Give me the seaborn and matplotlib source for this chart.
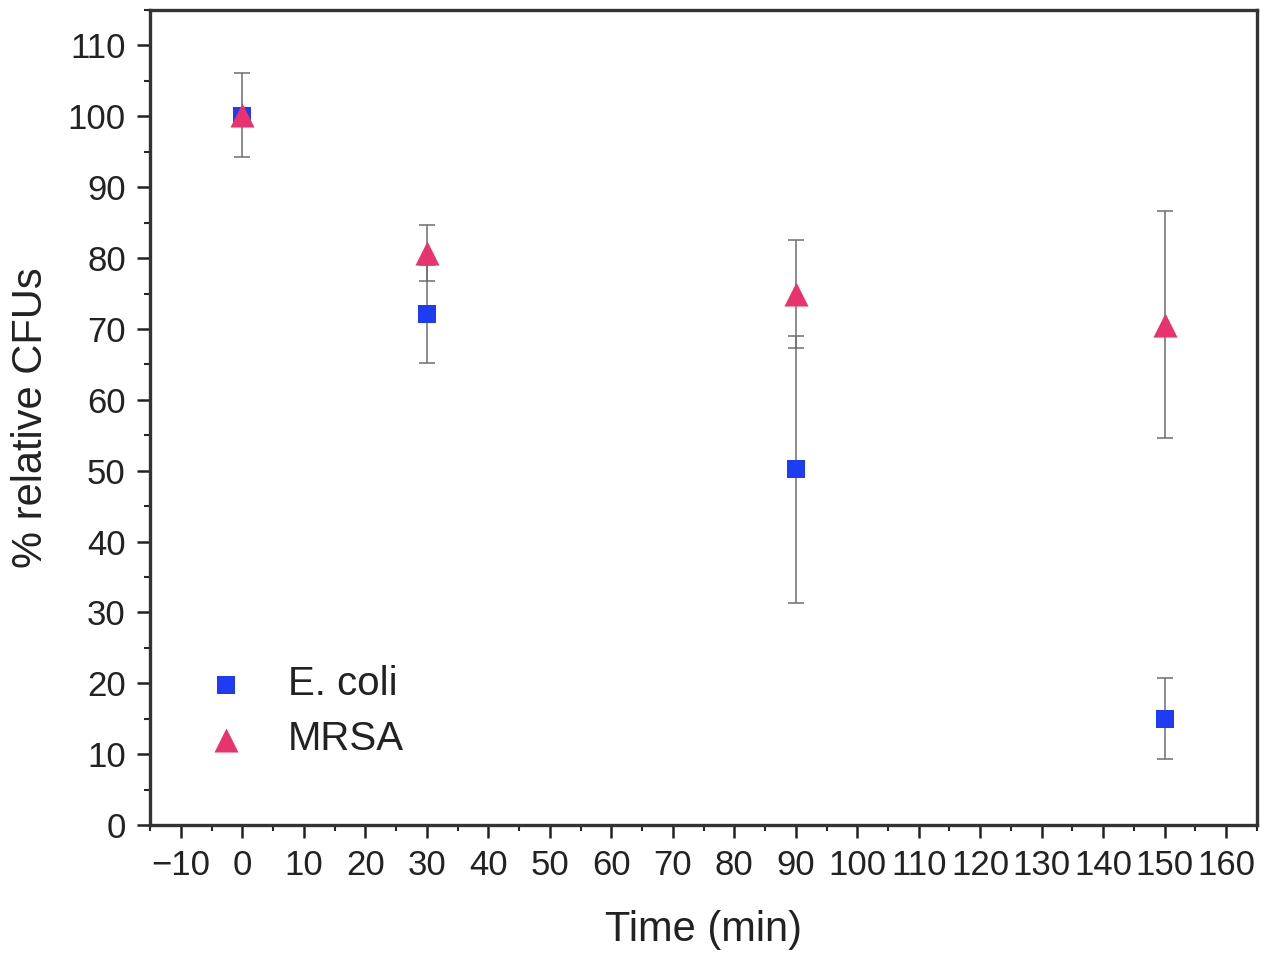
import matplotlib
matplotlib.use("Agg")
import matplotlib.pyplot as plt
import seaborn as sns
import pandas as pd
from matplotlib.ticker import MultipleLocator

time_min = [0, 30, 90, 150]
ecoli_mean = [100.0, 72.1, 50.2, 15.0]
ecoli_err = [1.0, 6.9, 18.8, 5.7]
mrsa_mean = [100.2, 80.7, 74.9, 70.6]
mrsa_err = [5.9, 3.9, 7.6, 16.0]
x_tick_labels = ["\u221210", "0", "10", "20", "30", "40", "50", "60", "70", "80",
                 "90", "100", "110", "120", "130", "140", "150", "160"]

ecoli_color = "#1f3cf5"
mrsa_color = "#e8336f"

df_e = pd.DataFrame({"Time": time_min, "CFU": ecoli_mean, "err": ecoli_err})
df_m = pd.DataFrame({"Time": time_min, "CFU": mrsa_mean, "err": mrsa_err})

sns.set_theme(style="ticks")
plt.rcParams["font.family"] = ["Liberation Sans", "DejaVu Sans"]

fig = plt.figure(figsize=(12.61, 9.56), dpi=100)
ax = fig.add_axes([0.119, 0.137, 0.8778, 0.8525])

for d in (df_e, df_m):
    ax.errorbar(d["Time"], d["CFU"], yerr=d["err"], fmt="none",
                ecolor="#6e6e6e", elinewidth=1.1, capsize=6, capthick=1.1, zorder=1)

sns.scatterplot(data=df_e, x="Time", y="CFU", marker="s", s=150, color=ecoli_color,
                edgecolor=ecoli_color, linewidth=0, label="E. coli", ax=ax, zorder=3)
sns.scatterplot(data=df_m, x="Time", y="CFU", marker="^", s=300, color=mrsa_color,
                edgecolor=mrsa_color, linewidth=0, label="MRSA", ax=ax, zorder=4)

ax.set_xlim(-15, 165)
ax.set_ylim(0, 115)
ax.set_xticks(range(-10, 161, 10))
ax.set_xticklabels(x_tick_labels)
ax.xaxis.set_minor_locator(MultipleLocator(5))
ax.yaxis.set_major_locator(MultipleLocator(10))
ax.yaxis.set_minor_locator(MultipleLocator(5))

ax.tick_params(axis="both", which="major", direction="out", length=9.5, width=1.8,
               labelsize=25, colors="#222222", pad=8)
ax.tick_params(axis="both", which="minor", direction="out", length=4.5, width=1.5)
ax.tick_params(top=False, right=False, which="both")

for sp in ax.spines.values():
    sp.set_linewidth(2.4)
    sp.set_color("#333333")

ax.set_xlabel("Time (min)", fontsize=30, color="#222222", labelpad=20)
ax.set_ylabel("% relative CFUs", fontsize=30, color="#222222", labelpad=12)

leg = ax.legend(loc="upper left", bbox_to_anchor=(0.163, 0.304),
                bbox_transform=fig.transFigure, frameon=False, borderpad=0,
                borderaxespad=0, fontsize=29, handlelength=1.0, handletextpad=1.05,
                labelspacing=0.42, markerscale=1.0)
for t in leg.get_texts():
    t.set_color("#222222")

fig.savefig("out.png", dpi=100)
